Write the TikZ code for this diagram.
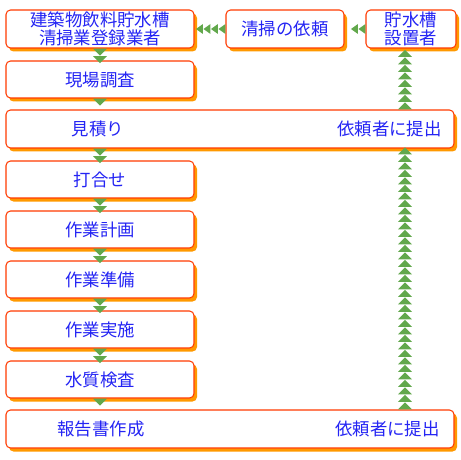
\documentclass[tikz,border=0pt]{standalone}
\usepackage{fontspec}
\setmainfont{Noto Sans CJK JP}
\usetikzlibrary{shadows,decorations.markings}
\definecolor{flowline}{HTML}{FF3A00}
\definecolor{flowshade}{HTML}{FF9900}
\definecolor{flowtext}{HTML}{2424F4}
\definecolor{flowgreen}{HTML}{62A84C}

\tikzset{
  flowbox/.style={draw=flowline, line width=0.6pt, fill=white, rounded corners=0.9mm,
                  inner sep=0pt, minimum height=7.6mm, align=center,
                  drop shadow={shadow xshift=0.6mm, shadow yshift=-0.7mm,
                               fill=flowshade, opacity=1}},
  flowlabel/.style={text=flowtext, inner sep=0pt},
  %% 連なる緑の三角形, 引数は三角形の半幅
  arrowrun/.style={decorate, decoration={markings,
      mark=between positions 0.7mm and 1 step 1.5mm with
        {\fill[flowgreen] (0.7mm,0) -- (-0.7mm,#1) -- (-0.7mm,-#1) -- cycle;}}}
}

\begin{document}
\begin{tikzpicture}[x=0.2mm, y=-0.2mm,
                    every node/.style={font=\fontsize{9.9pt}{10.3pt}\selectfont, text=flowtext}]

  \useasboundingbox (0,0) rectangle (460,460);

  %% ==== 上段: 依頼の流れ =============================================
  \node[flowbox, minimum width=37.6mm] (reg)   at (100,29) {建築物飲料貯水槽\\清掃業登録業者};
  \node[flowbox, minimum width=23.6mm] (req)   at (285,29) {清掃の依頼};
  \node[flowbox, minimum width=18mm]   (owner) at (411,29) {貯水槽\\設置者};

  %% ==== 作業の流れ ===================================================
  \node[flowbox, minimum width=37.6mm, minimum height=7.4mm] (survey) at (100,79.5) {現場調査};

  %% 見積り: 横長の枠に左右二つの文字
  \node[flowbox, minimum width=89.6mm] (est) at (230,129) {};
  \node[flowlabel]              (estL) at (98,129)  {見積り};
  \node[flowlabel, anchor=east] (estR) at (442,129) {依頼者に提出};

  \node[flowbox, minimum width=37.6mm, minimum height=7.4mm] (meet) at (100,179.5) {打合せ};
  \node[flowbox, minimum width=37.6mm, minimum height=7.4mm] (plan) at (100,229.5) {作業計画};
  \node[flowbox, minimum width=37.6mm, minimum height=7.4mm] (prep) at (100,279.5) {作業準備};
  \node[flowbox, minimum width=37.6mm, minimum height=7.4mm] (exec) at (100,329.5) {作業実施};
  \node[flowbox, minimum width=37.6mm, minimum height=7.4mm] (test) at (100,379.5) {水質検査};

  %% 報告書作成: 横長の枠に左右二つの文字
  \node[flowbox, minimum width=89.6mm] (report) at (230,429) {};
  \node[flowlabel]              (repL) at (101,429) {報告書作成};
  \node[flowlabel, anchor=east] (repR) at (440,429) {依頼者に提出};

  %% ==== 三角形の矢印 =================================================
  %% 左向き
  \path[arrowrun=1mm] (req.west) -- (reg.east);
  \path[arrowrun=1mm] (owner.west) -- ([xshift=0.8mm]req.east);

  %% 下向き
  \foreach \a/\b in {reg/survey, survey/est, est/meet, meet/plan,
                     plan/prep, prep/exec, exec/test, test/report}
    \path[arrowrun=1.4mm] (\a.south -| reg.south) -- (\b.north -| reg.north);

  %% 上向き: 依頼者への提出
  \path[arrowrun=1.4mm] ([xshift=-1.2mm]owner.south |- est.north) -- ([xshift=-1.2mm]owner.south);
  \path[arrowrun=1.4mm] ([xshift=-1.2mm]owner.south |- report.north) -- ([xshift=-1.2mm]owner.south |- est.south);

\end{tikzpicture}
\end{document}
